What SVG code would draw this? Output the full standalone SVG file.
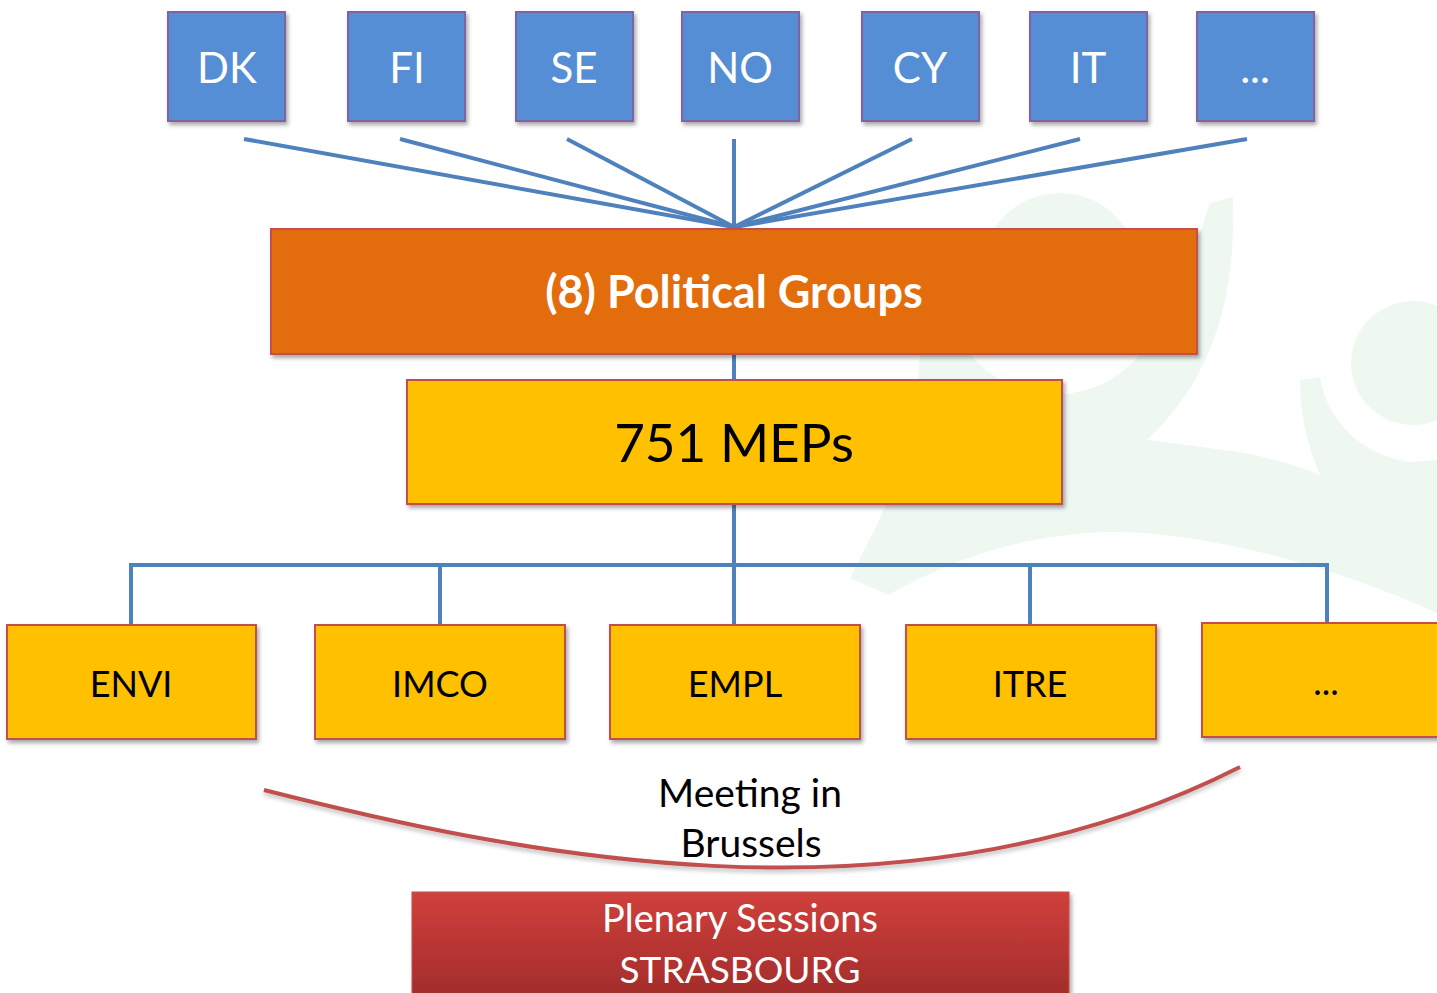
<svg xmlns="http://www.w3.org/2000/svg" width="1437" height="993" viewBox="0 0 1437 993">
  <defs>
    <filter id="shadow" x="-10%" y="-10%" width="125%" height="130%">
      <feDropShadow dx="2" dy="3" stdDeviation="2" flood-color="#000" flood-opacity="0.35"/>
    </filter>
    <filter id="lshadow" x="-5%" y="-20%" width="110%" height="160%">
      <feDropShadow dx="0" dy="3" stdDeviation="2" flood-color="#000" flood-opacity="0.25"/>
    </filter>
    <linearGradient id="plenary" x1="0" y1="0" x2="0" y2="1">
      <stop offset="0" stop-color="#D0403C"/>
      <stop offset="1" stop-color="#A02B2A"/>
    </linearGradient>
    <style>
      .wm { fill: #EEF8F1; }
      .country rect { fill: #558ED5; stroke: #8064A2; stroke-width: 2; filter: url(#shadow); }
      .country text { fill: #FFFFFF; font-family: Lato, "Open Sans", sans-serif; font-size: 42px; text-anchor: middle; }
      .box rect { stroke: #C0504D; stroke-width: 2; filter: url(#shadow); }
      .orange rect { fill: #E36C0A; }
      .yellow rect { fill: #FFC000; }
      .label { font-family: Lato, "Open Sans", sans-serif; text-anchor: middle; }
      .conn line, .conn path { stroke: #4F81BD; stroke-width: 4; fill: none; }
    </style>
  </defs>
  <rect x="0" y="0" width="1437" height="993" fill="#FFFFFF"/>

  <!-- faint background watermark -->
  <g id="watermark">
    <circle class="wm" cx="1060" cy="272" r="79"/>
    <circle class="wm" cx="1413" cy="363" r="62"/>
    <path class="wm" d="M1210,203 L1233,197 C1237,320 1200,390 1147,440 L1240,452 Q1290,462 1320,475 C1305,440 1300,410 1300,380 L1320,377 C1327,420 1360,455 1410,462 L1437,460 L1437,613 C1330,565 1200,530 1106,532 C1020,535 950,560 888,595 L850,578 C880,520 905,470 915,420 L920,353 C921,320 926,300 940,280 L955,330 A110,110 0 0 0 1150,340 C1175,300 1195,250 1210,203 Z"/>
  </g>

  <!-- connectors -->
  <g id="connectors" class="conn">
    <line x1="244" y1="139" x2="734" y2="227"/>
    <line x1="400" y1="139" x2="734" y2="227"/>
    <line x1="567" y1="139" x2="734" y2="227"/>
    <line x1="734" y1="139" x2="734" y2="227"/>
    <line x1="912" y1="139" x2="734" y2="227"/>
    <line x1="1080" y1="139" x2="734" y2="227"/>
    <line x1="1247" y1="139" x2="734" y2="227"/>
    <line x1="734" y1="354" x2="734" y2="380"/>
    <line x1="734" y1="505" x2="734" y2="625"/>
    <path d="M131,625 L131,565 L1327,565 L1327,623"/>
    <line x1="440" y1="565" x2="440" y2="625"/>
    <line x1="1030" y1="565" x2="1030" y2="625"/>
  </g>

  <!-- country nodes -->
  <g id="node-dk" class="country"><rect x="168" y="12" width="117" height="109"/><text x="227" y="83">DK</text></g>
  <g id="node-fi" class="country"><rect x="348" y="12" width="117" height="109"/><text x="407" y="83">FI</text></g>
  <g id="node-se" class="country"><rect x="516" y="12" width="117" height="109"/><text x="574" y="83">SE</text></g>
  <g id="node-no" class="country"><rect x="682" y="12" width="117" height="109"/><text x="740" y="83">NO</text></g>
  <g id="node-cy" class="country"><rect x="862" y="12" width="117" height="109"/><text x="920" y="83">CY</text></g>
  <g id="node-it" class="country"><rect x="1030" y="12" width="117" height="109"/><text x="1088" y="83">IT</text></g>
  <g id="node-more-countries" class="country"><rect x="1197" y="12" width="117" height="109"/><text x="1255" y="83">...</text></g>

  <!-- political groups -->
  <g id="node-political-groups" class="box orange">
    <rect x="271" y="229" width="926" height="125"/>
    <text class="label" x="734" y="308" font-size="45" font-weight="bold" fill="#FFFFFF">(8) Political Groups</text>
  </g>

  <!-- MEPs -->
  <g id="node-meps" class="box yellow">
    <rect x="407" y="380" width="655" height="124"/>
    <text class="label" x="734" y="462" font-size="53" fill="#000000">751 MEPs</text>
  </g>

  <!-- committees -->
  <g id="node-envi" class="box yellow"><rect x="7" y="625" width="249" height="114"/><text class="label" x="131" y="697" font-size="36" fill="#000">ENVI</text></g>
  <g id="node-imco" class="box yellow"><rect x="315" y="625" width="250" height="114"/><text class="label" x="440" y="697" font-size="36" fill="#000">IMCO</text></g>
  <g id="node-empl" class="box yellow"><rect x="610" y="625" width="250" height="114"/><text class="label" x="735" y="697" font-size="36" fill="#000">EMPL</text></g>
  <g id="node-itre" class="box yellow"><rect x="906" y="625" width="250" height="114"/><text class="label" x="1030" y="697" font-size="36" fill="#000">ITRE</text></g>
  <g id="node-more-committees" class="box yellow"><rect x="1202" y="623" width="250" height="114"/><text class="label" x="1326" y="695" font-size="36" fill="#000">...</text></g>

  <!-- Brussels curve -->
  <g id="node-brussels">
    <path d="M264,790 C500,850 900,940 1240,767" fill="none" stroke="#C0504D" stroke-width="4" filter="url(#lshadow)"/>
    <text class="label" x="750" y="807" font-size="39" fill="#000">Meeting in</text>
    <text class="label" x="751" y="857" font-size="39" fill="#000">Brussels</text>
  </g>

  <!-- plenary -->
  <g id="node-plenary">
    <rect x="412" y="892" width="657" height="110" fill="url(#plenary)" stroke="#C0504D" stroke-width="1" filter="url(#shadow)"/>
    <text class="label" x="740" y="932" font-size="38" fill="#FFFFFF">Plenary Sessions</text>
    <text class="label" x="740" y="983" font-size="37" fill="#FFFFFF">STRASBOURG</text>
  </g>
</svg>
